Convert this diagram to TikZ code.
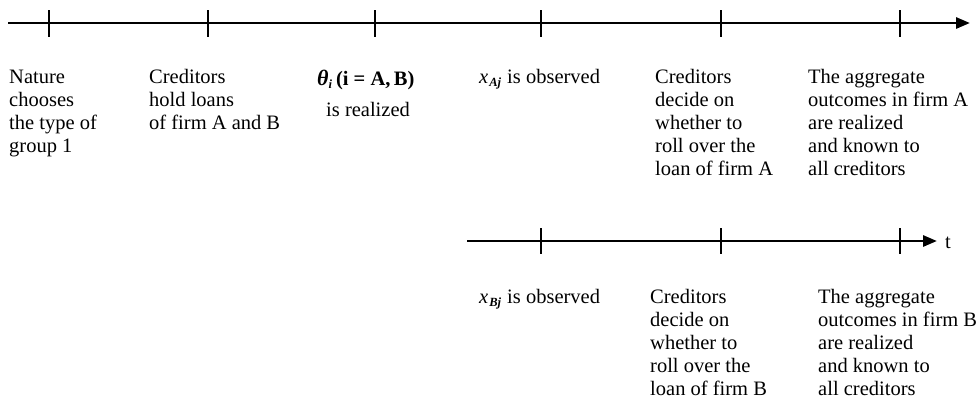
\documentclass[tikz,border=0pt]{standalone}
\usepackage{fontspec}
\setmainfont{Liberation Serif}
\usetikzlibrary{arrows.meta}
\tikzset{
  axis/.style={line width=2.8pt,-{Triangle[length=14pt,width=11pt]}},
  tick/.style={line width=1.4pt},
  lbl/.style={anchor=base west,inner sep=0pt,align=left,font=\fontsize{20.5}{23}\selectfont},
}
\newcommand{\sbi}[1]{\raisebox{-0.4ex}{\fontsize{12.5}{12.5}\selectfont\bfseries\itshape #1}}
\begin{document}
\begin{tikzpicture}[x=1pt,y=-1pt]
\useasboundingbox (0,0) rectangle (976,405);
% top axis
\coordinate (a0) at (8,23);
\coordinate (a1) at (970,23);
\draw[axis] (a0) -- (a1);
\foreach \n/\x in {1/49,2/208,3/375,4/541,5/721,6/900}{
  \coordinate (ta\n) at (\x,10);
  \coordinate (ba\n) at (\x,37);
  \draw[tick] (ta\n) -- (ba\n);
}
% bottom axis
\coordinate (b0) at (467,241);
\coordinate (b1) at (937,241);
\draw[axis] (b0) -- (b1);
\node[lbl] (tlab) at (945,248) {t};
\foreach \n/\x in {1/541,2/721,3/900}{
  \coordinate (tb\n) at (\x,228);
  \coordinate (bb\n) at (\x,254);
  \draw[tick] (tb\n) -- (bb\n);
}
% top labels (anchor = baseline of the last line)
\node[lbl] (n1) at (9,152) {Nature\\chooses\\the type of\\group 1};
\node[lbl] (n2) at (149,129) {Creditors\\hold loans\\of firm A and B};
\node[lbl] (n3) at (317,85) {{\fontsize{22}{22}\selectfont\bfseries\itshape θ}\sbi{i}\hspace{4pt}\textbf{(i = A,\,B)}};
\node[lbl] (n3b) at (326,116) {is realized};
\node[lbl] (n4) at (479,83) {\textit{x}\hspace{1pt}\sbi{Aj}\hspace{1pt} is observed};
\node[lbl] (n5) at (655,175) {Creditors\\decide on\\whether to\\roll over the\\loan of firm A};
\node[lbl] (n6) at (808,175) {The aggregate\\outcomes in firm A\\are realized\\and known to\\all creditors};
% bottom labels
\node[lbl] (m4) at (479,303) {\textit{x}\hspace{1pt}\sbi{Bj}\hspace{1pt} is observed};
\node[lbl] (m5) at (650,395) {Creditors\\decide on\\whether to\\roll over the\\loan of firm B};
\node[lbl] (m6) at (818,395) {The aggregate\\outcomes in firm B\\are realized\\and known to\\all creditors};
\end{tikzpicture}
\end{document}
